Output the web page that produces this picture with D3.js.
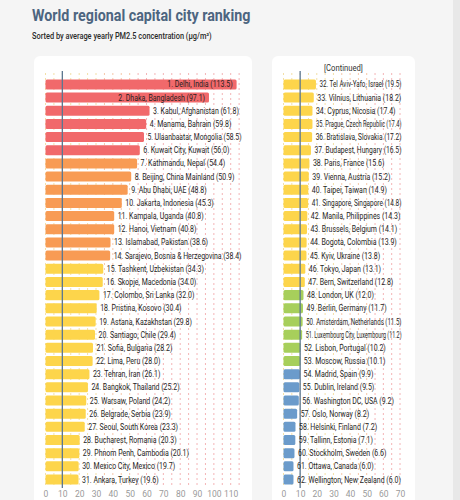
<!DOCTYPE html>
<html><head><meta charset="utf-8">
<script src="https://cdn.jsdelivr.net/npm/d3@7"></script>
<style>html,body{margin:0;padding:0;background:#f5f5f5;}svg{display:block;font-family:Roboto,"Noto Sans",sans-serif;}</style>
</head><body>
<svg id="chart" width="460" height="500"></svg>
<script>
const cities = ["Delhi, India","Dhaka, Bangladesh","Kabul, Afghanistan","Manama, Bahrain","Ulaanbaatar, Mongolia","Kuwait City, Kuwait","Kathmandu, Nepal","Beijing, China Mainland","Abu Dhabi, UAE","Jakarta, Indonesia","Kampala, Uganda","Hanoi, Vietnam","Islamabad, Pakistan","Sarajevo, Bosnia & Herzegovina","Tashkent, Uzbekistan","Skopje, Macedonia","Colombo, Sri Lanka","Pristina, Kosovo","Astana, Kazakhstan","Santiago, Chile","Sofia, Bulgaria","Lima, Peru","Tehran, Iran","Bangkok, Thailand","Warsaw, Poland","Belgrade, Serbia","Seoul, South Korea","Bucharest, Romania","Phnom Penh, Cambodia","Mexico City, Mexico","Ankara, Turkey","Tel Aviv-Yafo, Israel","Vilnius, Lithuania","Cyprus, Nicosia","Prague, Czech Republic","Bratislava, Slovakia","Budapest, Hungary","Paris, France","Vienna, Austria","Taipei, Taiwan","Singapore, Singapore","Manila, Philippines","Brussels, Belgium","Bogota, Colombia","Kyiv, Ukraine","Tokyo, Japan","Bern, Switzerland","London, UK","Berlin, Germany","Amsterdam, Netherlands","Luxembourg City, Luxembourg","Lisbon, Portugal","Moscow, Russia","Madrid, Spain","Dublin, Ireland","Washington DC, USA","Oslo, Norway","Helsinki, Finland","Tallinn, Estonia","Stockholm, Sweden","Ottawa, Canada","Wellington, New Zealand"];
const values = [113.5,97.1,61.8,59.8,58.5,56.0,54.4,50.9,48.8,45.3,40.8,40.8,38.6,38.4,34.3,34.0,32.0,30.4,29.8,29.4,28.2,28.0,26.1,25.2,24.2,23.9,23.3,20.3,20.1,19.7,19.6,19.5,18.2,17.4,17.4,17.2,16.5,15.6,15.2,14.9,14.8,14.3,14.1,13.9,13.8,13.1,12.8,12.0,11.7,11.5,11.2,10.2,10.1,9.9,9.5,9.2,8.2,7.2,7.1,6.6,6.0,6.0];
const leftTicks = [0,10,20,30,40,50,60,70,80,90,100,110];
const rightTicks = [0,10,20,30,40,50,60,70];
const thresholds = [10, 12.05, 35.45, 55.45];
const barColors = ["#6b9bcb","#a7cf5b","#fdd54b","#f89b54","#f1696b"];
const gridColors = ["#f3dfa6","#f3dfa6","#f3dfa6","#f6c7a8","#f4b4b6"];
const guideline = 10;

const svg = d3.select("#chart");
const color = d3.scaleThreshold().domain(thresholds).range(barColors);
const gridColor = d3.scaleThreshold().domain([0,25,32,52]).range(gridColors);

function condense(sel, factor, maxW) {
  sel.each(function(){
    const w = this.getComputedTextLength();
    let t = w*factor;
    if (maxW && t > maxW) t = maxW;
    d3.select(this).attr("textLength", t).attr("lengthAdjust","spacingAndGlyphs");
  });
}

svg.append("rect").attr("x",453).attr("y",0).attr("width",7).attr("height",500).attr("fill","#e8e8e8");

svg.append("text").attr("x",32).attr("y",20.5).attr("font-size",17).attr("font-weight",700)
  .attr("fill","#4d6580").text("World regional capital city ranking").call(condense,0.84);
svg.append("text").attr("x",32).attr("y",39).attr("font-size",8.6).attr("font-weight",500)
  .attr("fill","#2a2a2a").text("Sorted by average yearly PM2.5 concentration (\u03bcg/m\u00b3)").call(condense,0.86);

const data = cities.map((c,i)=>({rank:i+1, city:c, value:values[i]}));
const panels = [
  {rows:data.slice(0,31), card:[34,56,218,460], domain:[0,110], range:[45.5,230.7], ticks:leftTicks, gridMax:115, limit:241.5, title:null},
  {rows:data.slice(31), card:[272,56,143,460], domain:[0,70], range:[283.5,400], ticks:rightTicks, gridMax:70, limit:401.5, title:"[Continued]"}
];

panels.forEach(p=>{
  const g = svg.append("g");
  g.append("rect").attr("x",p.card[0]).attr("y",p.card[1]).attr("width",p.card[2]).attr("height",p.card[3])
    .attr("rx",6).attr("fill","#ffffff");
  const x = d3.scaleLinear().domain(p.domain).range(p.range);
  const y = d3.scaleBand().domain(d3.range(31)).range([77.8,486.1]).paddingInner(0.24).paddingOuter(0.12);

  if (p.title) {
    g.append("text").attr("x",(p.card[0]+p.card[0]+p.card[2])/2).attr("y",70.5).attr("text-anchor","middle")
      .attr("font-size",9).attr("fill","#333").text(p.title).call(condense,0.85);
  }
  const gridVals = d3.range(0, p.gridMax+0.1, 5);
  g.selectAll(".grid").data(gridVals).join("line")
    .attr("x1",d=>x(d)).attr("x2",d=>x(d)).attr("y1",73).attr("y2",488)
    .attr("stroke",d=>gridColor(d)).attr("stroke-width",1).attr("stroke-dasharray","2,3");
  g.selectAll(".bar").data(p.rows).join("rect")
    .attr("x",x(0)).attr("y",(d,i)=>y(i)).attr("width",d=>x(d.value)-x(0)).attr("height",y.bandwidth())
    .attr("rx",1.5).attr("fill",d=>color(d.value));
  g.append("line").attr("x1",x(guideline)).attr("x2",x(guideline)).attr("y1",71).attr("y2",488)
    .attr("stroke","#5b7691").attr("stroke-width",1.3);
  g.selectAll(".lab").data(p.rows).join("text")
    .attr("y",(d,i)=>y(i)+y.bandwidth()/2).attr("dy","0.36em")
    .attr("font-size",8.5).attr("fill","#1e1e1e")
    .text(d=>`${d.rank}. ${d.city} (${d.value.toFixed(1)})`)
    .each(function(d){
      const w = this.getComputedTextLength()*0.82;
      const end = x(d.value);
      const sel = d3.select(this);
      if (end + 3.5 + w > p.limit && end - x(0) > w + 8) {
        sel.attr("x", end-4).attr("text-anchor","end").attr("textLength",w).attr("lengthAdjust","spacingAndGlyphs");
      } else {
        const avail = p.limit - (end+3.5);
        sel.attr("x", end+3.5).attr("textLength",Math.min(w,avail)).attr("lengthAdjust","spacingAndGlyphs");
      }
    });
  const axis = d3.axisBottom(x).tickValues(p.ticks).tickSize(0).tickPadding(0);
  const ag = g.append("g").attr("transform","translate(0,489)").call(axis);
  ag.select(".domain").remove();
  ag.selectAll("text").attr("font-size",8.5).attr("fill","#9a9a9a").attr("font-family","Roboto, sans-serif").attr("dy","0.9em");
});
</script>
</body></html>
